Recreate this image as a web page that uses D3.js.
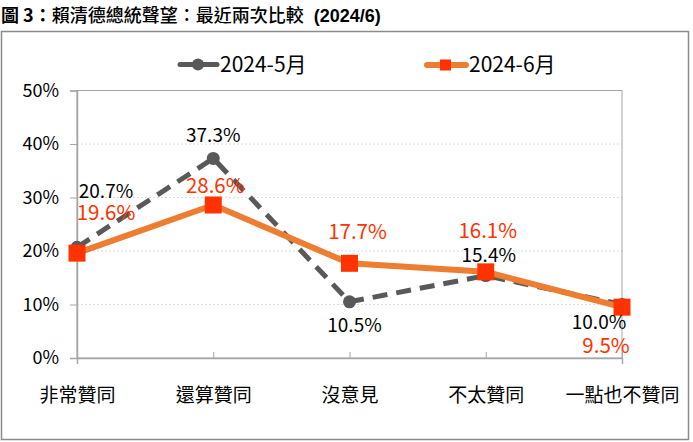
<!DOCTYPE html>
<html><head><meta charset="utf-8">
<script src="https://cdn.jsdelivr.net/npm/d3@7"></script>
<style>
html,body{margin:0;padding:0;background:#fff;}
svg{display:block;font-family:"Noto Sans CJK TC","Noto Sans",sans-serif;}
</style></head>
<body><svg id="c" width="693" height="442"></svg>
<script>
const categories = ["非常贊同","還算贊同","沒意見","不太贊同","一點也不贊同"];
const may = [20.7, 37.3, 10.5, 15.4, 10.0];
const june = [19.6, 28.6, 17.7, 16.1, 9.5];
const seriesNames = ["2024-5月","2024-6月"];
const yTicks = [0,10,20,30,40,50];
const title = ["圖 3：","賴清德總統聲望：最近兩次比較","  (2024/6)"];

const svg = d3.select("#c");
const M = {left:77, right:622, top:90.5, bottom:358};
const x = d3.scalePoint().domain(categories).range([M.left, M.right]);
const y = d3.scaleLinear().domain([0,50]).range([M.bottom, M.top]);

// outer border
svg.append("rect").attr("x",1.5).attr("y",31.5).attr("width",687).attr("height",408)
  .attr("fill","none").attr("stroke","#8c8c8c").attr("stroke-width",1.5);

// title
const t = svg.append("text").attr("x",1).attr("y",22).attr("font-size",18).attr("fill","#000");
t.append("tspan").attr("font-weight","bold").text(title[0]);
t.append("tspan").attr("font-weight","500").text(title[1]);
t.append("tspan").attr("font-weight","bold").attr("font-family","Liberation Sans, Arial, sans-serif").attr("xml:space","preserve").text(title[2]);

// gridlines
svg.append("g").selectAll("line").data(yTicks.filter(d=>d>0 && d<50)).join("line")
  .attr("x1",M.left).attr("x2",M.right).attr("y1",d=>y(d)).attr("y2",d=>y(d))
  .attr("stroke","#dcdcdc").attr("stroke-width",1).attr("stroke-dasharray","2,2");

// plot border
svg.append("rect").attr("x",M.left).attr("y",M.top).attr("width",M.right-M.left).attr("height",M.bottom-M.top)
  .attr("fill","none").attr("stroke","#a6a6a6").attr("stroke-width",1);

// y axis
const ya = svg.append("g").attr("transform",`translate(${M.left},0)`)
  .call(d3.axisLeft(y).tickValues(yTicks).tickFormat(d=>d+"%").tickSize(7).tickPadding(11));
ya.select(".domain").attr("stroke","#a6a6a6").attr("stroke-width",1.5);
ya.selectAll(".tick line").attr("stroke","#a6a6a6");
ya.selectAll(".tick text").attr("font-size",18).attr("fill","#000")
  .attr("font-family","Noto Sans CJK TC, sans-serif");

// x axis
const xa = svg.append("g").attr("transform",`translate(0,${M.bottom})`)
  .call(d3.axisBottom(x).tickSize(6).tickPadding(25));
xa.select(".domain").attr("stroke","#a6a6a6").attr("stroke-width",1.5);
xa.selectAll(".tick line").attr("stroke","#a6a6a6").attr("transform","translate(0,-6)");
xa.selectAll(".tick text").attr("font-size",19).attr("fill","#000")
  .attr("font-family","Noto Sans CJK TC, sans-serif");

const line = d3.line().x((d,i)=>x(categories[i])).y(d=>y(d));

// May series
svg.append("path").datum(may).attr("d",line).attr("fill","none")
  .attr("stroke","#595959").attr("stroke-width",5).attr("stroke-dasharray","15,9");
svg.append("g").selectAll("circle").data(may).join("circle")
  .attr("cx",(d,i)=>x(categories[i])).attr("cy",d=>y(d)).attr("r",6.5).attr("fill","#595959");

// June series
svg.append("path").datum(june).attr("d",line).attr("fill","none")
  .attr("stroke","#ED7D31").attr("stroke-width",6).attr("stroke-linejoin","round");
svg.append("g").selectAll("rect").data(june).join("rect")
  .attr("x",(d,i)=>x(categories[i])-8.5).attr("y",d=>y(d)-8.5).attr("width",17).attr("height",17).attr("fill","#FF3300");

// labels (offsets relative to points)
const mayOff = [[29,-49],[0,-16],[5,30],[3,-14],[-23,24]];
const juneOff = [[29,-33],[2,-12],[8,-24],[2,-34],[-16,46]];
svg.append("g").selectAll("text").data(may).join("text")
  .attr("x",(d,i)=>x(categories[i])+mayOff[i][0]).attr("y",(d,i)=>y(d)+mayOff[i][1])
  .attr("text-anchor","middle").attr("font-size",19).attr("fill","#000")
  .text(d=>d.toFixed(1)+"%");
svg.append("g").selectAll("text").data(june).join("text")
  .attr("x",(d,i)=>x(categories[i])+juneOff[i][0]).attr("y",(d,i)=>y(d)+juneOff[i][1])
  .attr("text-anchor","middle").attr("font-size",20.5).attr("fill","#FF3300")
  .text(d=>d.toFixed(1)+"%");

// legend
const lg = svg.append("g");
lg.append("line").attr("x1",180).attr("x2",217).attr("y1",64.5).attr("y2",64.5)
  .attr("stroke","#595959").attr("stroke-width",5).attr("stroke-linecap","round");
lg.append("circle").attr("cx",198).attr("cy",64.5).attr("r",6).attr("fill","#595959");
lg.append("text").attr("x",220).attr("y",72).attr("font-size",21).text(seriesNames[0]);
lg.append("line").attr("x1",427).attr("x2",466).attr("y1",65).attr("y2",65)
  .attr("stroke","#ED7D31").attr("stroke-width",6).attr("stroke-linecap","round");
lg.append("rect").attr("x",440).attr("y",59.5).attr("width",11).attr("height",11).attr("fill","#FF3300");
lg.append("text").attr("x",469).attr("y",72).attr("font-size",21).text(seriesNames[1]);
</script></body></html>
